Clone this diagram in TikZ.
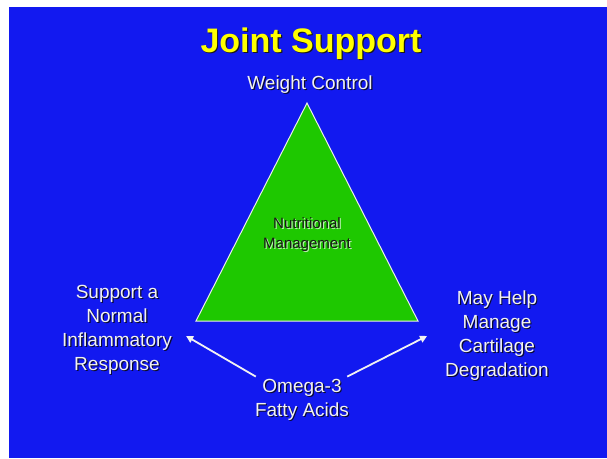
\documentclass[tikz,border=0pt]{standalone}
\usepackage{fontspec}
\setmainfont{Liberation Sans}
\usepackage{xcolor}
\definecolor{slideblue}{HTML}{1219F0}
\definecolor{pyramidgreen}{HTML}{1EC800}
\definecolor{titleyellow}{HTML}{FFFF00}
\definecolor{textwhite}{HTML}{F2F2F2}
\definecolor{shadedark}{HTML}{0A0A30}
\usepackage{tikz}
\usetikzlibrary{positioning,arrows.meta,calc}
% text with a small drop shadow, colour set per style
\newcommand{\shd}[1]{\leavevmode\rlap{\kern1.2pt\raisebox{-1.2pt}{\color{shadecol}#1}}#1}
\tikzset{
    slide/.style={
        fill=slideblue,
        draw=none,
    },
    pyramid/.style={
        fill=pyramidgreen,
        draw=white!85!gray,
        line width=1pt,
    },
    title/.style={
        text=titleyellow,
        font=\fontsize{34}{40}\selectfont\bfseries,
        inner sep=0pt,
        execute at begin node={\colorlet{shadecol}{black!90}},
    },
    caption/.style={
        text=textwhite,
        font=\fontsize{19}{24}\selectfont,
        align=center,
        inner sep=0pt,
        execute at begin node={\colorlet{shadecol}{shadedark}},
    },
    innerlabel/.style={
        text=black!90,
        font=\fontsize{15}{20.5}\selectfont,
        align=center,
        inner sep=0pt,
        execute at begin node={\colorlet{shadecol}{white!70!pyramidgreen}},
    },
    arrow/.style={
        ->,
        >={Triangle[length=7pt,width=7pt]},
        line width=1.8pt,
        textwhite,
    },
}
\begin{document}
\begin{tikzpicture}[x=1pt,y=-1pt]
    \useasboundingbox (0,0) rectangle (607,458);
    % Background
    \fill[slide] (9,7) rectangle (607,458);

    % Title
    \node[title] (title) at (311,44) {\shd{Joint Support}};

    % Pyramid
    \coordinate (apex) at (307,103);
    \coordinate (baseleft) at (196,321);
    \coordinate (baseright) at (418,321);
    \draw[pyramid] (apex) -- (baseleft) -- (baseright) -- cycle;
    \node[innerlabel] (nutrition) at (307,235) {\shd{Nutritional}\\\shd{Management}};

    % Corner labels
    \node[caption] (weight) at (310,85) {\shd{Weight Control}};
    \node[caption] (inflam) at (117,330) {\shd{Support a}\\\shd{Normal}\\\shd{Inflammatory}\\\shd{Response}};
    \node[caption] (cartilage) at (497,336) {\shd{May Help}\\\shd{Manage}\\\shd{Cartilage}\\\shd{Degradation}};
    \node[caption] (omega) at (302,400) {\shd{Omega-3}\\\shd{Fatty Acids}};

    % Arrows
    \draw[arrow] ($(omega.north west)+(1,-2)$) -- ($(inflam.east)+(14,6)$);
    \draw[arrow] ($(omega.north east)+(-2,-2)$) -- ($(cartilage.west)+(-18,0)$);
\end{tikzpicture}
\end{document}
